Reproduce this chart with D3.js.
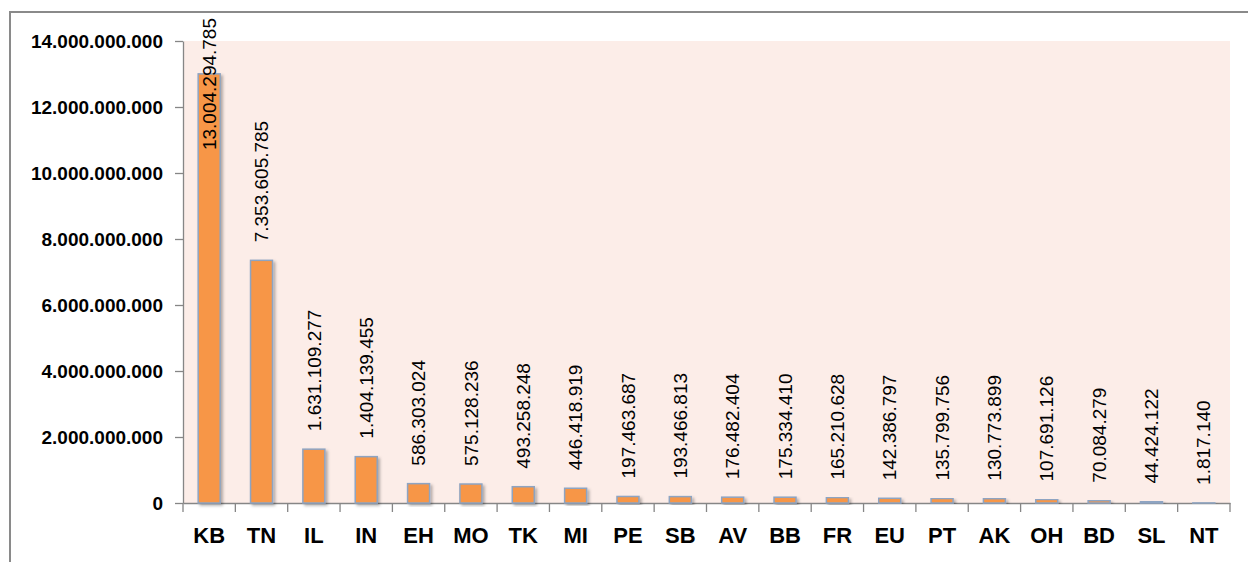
<!DOCTYPE html>
<html lang="en">
<head>
    <meta charset="UTF-8">
    <title>Bar chart</title>
    <script src="https://d3js.org/d3.v7.min.js"></script>
    <style>
        body { margin: 0; background: #fff; font-family: "Liberation Sans", Arial, sans-serif; }
        .y-axis text { font-size: 19px; font-weight: bold; fill: #000; }
        .x-axis text { font-size: 22px; font-weight: bold; fill: #000; }
        .axis path, .axis line { stroke: #868686; stroke-width: 1.3; }
        .value-label { font-size: 19px; fill: #000; }
    </style>
</head>
<body>
    <div id="chart"></div>
    <script>
        const categories = ["KB", "TN", "IL", "IN", "EH", "MO", "TK", "MI", "PE", "SB",
                            "AV", "BB", "FR", "EU", "PT", "AK", "OH", "BD", "SL", "NT"];
        const values = [13004294785, 7353605785, 1631109277, 1404139455, 586303024,
                        575128236, 493258248, 446418919, 197463687, 193466813,
                        176482404, 175334410, 165210628, 142386797, 135799756,
                        130773899, 107691126, 70084279, 44424122, 1817140];
        const yTicks = [0, 2e9, 4e9, 6e9, 8e9, 10e9, 12e9, 14e9];

        const width = 1248;
        const height = 562;
        const plot = { left: 183, right: 1230, top: 41, bottom: 503 };

        const locale = d3.formatLocale({ decimal: ",", thousands: ".", grouping: [3], currency: ["", ""] });
        const fmt = locale.format(",d");

        const svg = d3.select("#chart")
            .append("svg")
            .attr("width", width)
            .attr("height", height);

        const defs = svg.append("defs");
        const shadow = defs.append("filter")
            .attr("id", "shadow")
            .attr("x", "-30%").attr("y", "-10%")
            .attr("width", "170%").attr("height", "130%");
        shadow.append("feDropShadow")
            .attr("dx", 2).attr("dy", 2)
            .attr("stdDeviation", 1.8)
            .attr("flood-color", "#000")
            .attr("flood-opacity", 0.3);

        // outer chart border
        svg.append("rect")
            .attr("x", 10).attr("y", 12)
            .attr("width", 1400).attr("height", 700)
            .attr("fill", "none")
            .attr("stroke", "#8a8a8a")
            .attr("stroke-width", 2);

        const x = d3.scaleBand()
            .domain(categories)
            .range([plot.left, plot.right])
            .padding(0);

        const y = d3.scaleLinear()
            .domain([0, 14e9])
            .range([plot.bottom, plot.top]);

        // plot background
        svg.append("rect")
            .attr("x", plot.left + 1)
            .attr("y", plot.top)
            .attr("width", plot.right - plot.left - 1)
            .attr("height", plot.bottom - plot.top)
            .attr("fill", "#fcede8");

        const yAxis = svg.append("g")
            .attr("class", "axis y-axis")
            .attr("transform", `translate(${plot.left},0)`)
            .call(d3.axisLeft(y).tickValues(yTicks).tickFormat(fmt).tickSize(8).tickSizeOuter(0).tickPadding(12));

        const xAxis = svg.append("g")
            .attr("class", "axis x-axis")
            .attr("transform", `translate(0,${plot.bottom})`)
            .call(d3.axisBottom(x).tickSize(0).tickSizeOuter(0).tickPadding(28));

        // tick marks on band boundaries
        const bounds = categories.map(c => x(c)).concat([x.range()[1]]);
        xAxis.selectAll(".bound")
            .data(bounds)
            .enter()
            .append("line")
            .attr("class", "bound")
            .attr("x1", d => d).attr("x2", d => d)
            .attr("y1", 0).attr("y2", 9);
        xAxis.selectAll(".tick text").attr("dy", "0.55em");

        const barW = x.bandwidth() * 0.42;
        const data = categories.map((c, i) => ({ name: c, value: values[i] }));

        svg.append("g")
            .selectAll("rect")
            .data(data)
            .enter()
            .append("rect")
            .attr("x", d => x(d.name) + (x.bandwidth() - barW) / 2)
            .attr("y", d => y(d.value))
            .attr("width", barW)
            .attr("height", d => y(0) - y(d.value))
            .attr("fill", "#f79646")
            .attr("stroke", "#8ea4c2")
            .attr("stroke-width", 1.5)
            .attr("filter", "url(#shadow)");

        const labels = svg.append("g")
            .selectAll("text")
            .data(data)
            .enter()
            .append("text")
            .attr("class", "value-label")
            .attr("text-anchor", "start")
            .attr("dy", "0.35em")
            .text(d => fmt(d.value));

        labels.each(function(d) {
            const len = this.getComputedTextLength();
            let start = y(d.value) - 18;
            if (start - len < 18) start = 18 + len;  // keep label inside the chart
            const cx = x(d.name) + x.bandwidth() / 2;
            d3.select(this).attr("transform", `translate(${cx},${start}) rotate(-90)`);
        });
    </script>
</body>
</html>
